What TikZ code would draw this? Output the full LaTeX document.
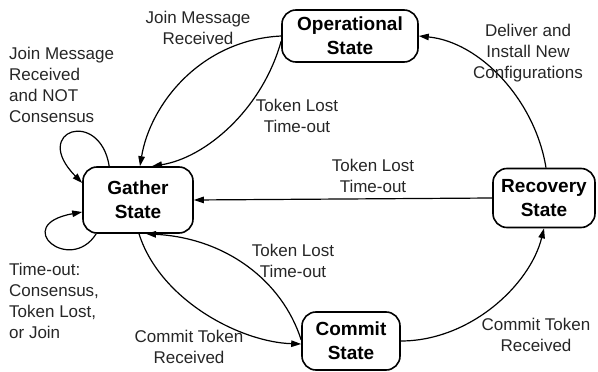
\documentclass[tikz,border=0pt]{standalone}
\usepackage{fontspec}
\setmainfont{Liberation Sans}
\usetikzlibrary{arrows.meta,calc}

\tikzset{
  state/.style={draw, line width=1.6pt, rounded corners=14pt, align=center,
    font=\bfseries\fontsize{19}{24}\selectfont, inner sep=0pt},
  lbl/.style={align=center, text=black!85, font=\fontsize{17}{21}\selectfont, inner sep=0pt},
  lbll/.style={lbl, align=left, anchor=north west},
  arr/.style={line width=1.2pt, -{Triangle[length=10pt,width=6.5pt]}}
}

\begin{document}
\begin{tikzpicture}[x=1pt,y=-1pt]
\useasboundingbox (0,0) rectangle (598,372);

% states
\node[state, minimum width=136pt, minimum height=52pt] (op) at (350,36) {Operational\\State};
\node[state, minimum width=110pt, minimum height=66pt] (ga) at (138,200) {Gather\\State};
\node[state, minimum width=102pt, minimum height=59pt] (re) at (544,198) {Recovery\\State};
\node[state, minimum width=98pt, minimum height=58pt] (co) at (351,341) {Commit\\State};

% transitions
\draw[arr] (op.west) .. controls (200,40) and (150,105) .. ($(ga.north)+(2,0)$);
\draw[arr] ($(op.west)+(0,5)$) .. controls (262,110) and (205,158) .. ($(ga.north)+(14,0)$);
\draw[arr] ($(re.north)+(2,0)$) .. controls (535,100) and (480,42) .. (op.east);
\draw[arr] (re.west) -- (ga.east);
\draw[arr] (co.east) .. controls (470,341) and (530,285) .. (re.south);
\draw[arr] ($(ga.south)+(1,0)$) .. controls (160,300) and (240,342) .. ($(co.west)+(0,3)$);
\draw[arr] ($(co.west)+(0,-1)$) .. controls (282,280) and (225,238) .. ($(ga.south)+(8,0)$);

% self loops on the gather state
\coordinate (tl) at ($(ga.north west)+(27,0)$);
\coordinate (bl) at ($(ga.south west)+(14,0)$);
\draw[arr] (tl) .. controls (100,108) and (30,130) .. ($(ga.west)+(0,-17)$);
\draw[arr] (bl) .. controls (70,275) and (10,225) .. ($(ga.west)+(0,12)$);

% labels
\node[lbl] (l1) at (198,28) {Join Message\\Received};
\node[lbll] (l2) at (9,47) {Join Message\\Received\\and NOT\\Consensus};
\node[lbl] (l3) at (297,116) {Token Lost\\Time-out};
\node[lbl] (l4) at (528,53) {Deliver and\\Install New\\Configurations};
\node[lbl] (l5) at (373,176) {Token Lost\\Time-out};
\node[lbl] (l6) at (293,261) {Token Lost\\Time-out};
\node[lbll] (l7) at (9,263) {Time-out:\\Consensus,\\Token Lost,\\or Join};
\node[lbl] (l8) at (189,347) {Commit Token\\Received};
\node[lbl] (l9) at (536,335) {Commit Token\\Received};
\end{tikzpicture}
\end{document}
